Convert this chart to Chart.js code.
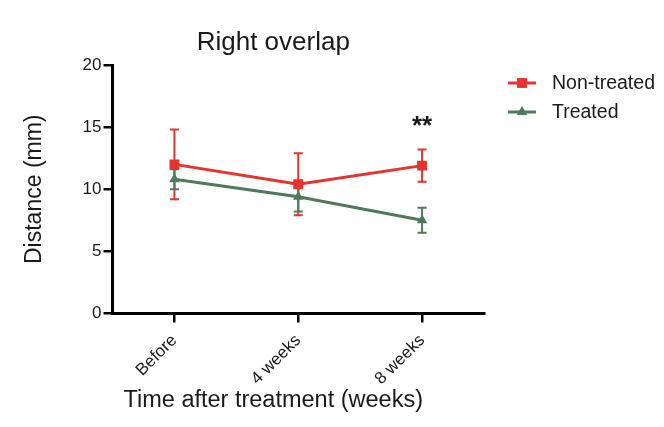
<!DOCTYPE html>
<html lang="en">
<head>
  <meta charset="UTF-8">
  <title>Right overlap</title>
  <script src="https://cdn.jsdelivr.net/npm/chart.js"></script>
  <style>
    html, body { margin: 0; padding: 0; background: #fff; }
    .chart-container { width: 664px; height: 427px; }
  </style>
</head>
<body>
  <div class="chart-container">
    <canvas id="overlapChart"></canvas>
  </div>

  <script>
    const categories = ["Before", "4 weeks", "8 weeks"];
    const yTicks = [0, 5, 10, 15, 20];

    const nonTreated = [12.0, 10.4, 11.9];
    const nonTreatedErr = [2.8, 2.5, 1.3];
    const treated = [10.8, 9.4, 7.5];
    const treatedErr = [0.8, 1.2, 1.0];

    // significance marks above a category
    const marks = [{ index: 2, text: "**" }];

    const RED = '#e8322e';
    const GREEN = '#4e7a5a';
    const FONT = '"Liberation Sans", Arial, sans-serif';

    const errorBars = {
      id: 'errorBars',
      beforeDatasetsDraw(chart) {
        const ctx = chart.ctx;
        const x = chart.scales.x, y = chart.scales.y;
        chart.data.datasets.forEach(ds => {
          ctx.save();
          ctx.strokeStyle = ds.borderColor;
          ctx.lineWidth = 2;
          ds.errors.forEach((e, i) => {
            const px = x.getPixelForValue(i);
            const top = y.getPixelForValue(ds.data[i] + e);
            const bot = y.getPixelForValue(ds.data[i] - e);
            ctx.beginPath();
            ctx.moveTo(px, top); ctx.lineTo(px, bot);
            ctx.moveTo(px - 4.5, top); ctx.lineTo(px + 4.5, top);
            ctx.moveTo(px - 4.5, bot); ctx.lineTo(px + 4.5, bot);
            ctx.stroke();
          });
          ctx.restore();
        });
      }
    };

    const extras = {
      id: 'extras',
      afterDraw(chart) {
        const ctx = chart.ctx;
        const area = chart.chartArea;
        const x = chart.scales.x, y = chart.scales.y;
        const midX = (area.left + area.right) / 2 - 25;
        ctx.save();
        ctx.fillStyle = '#1a1a1a';
        ctx.textAlign = 'center';
        ctx.textBaseline = 'alphabetic';

        // title
        ctx.font = '26px ' + FONT;
        ctx.fillText('Right overlap', midX, 50);

        // x axis title
        ctx.font = '23.5px ' + FONT;
        ctx.fillText('Time after treatment (weeks)', midX, 407);

        // significance stars
        ctx.font = 'bold 26px ' + FONT;
        ctx.textBaseline = 'middle';
        marks.forEach(m => {
          const px = x.getPixelForValue(m.index);
          const top = y.getPixelForValue(nonTreated[m.index] + nonTreatedErr[m.index]);
          ctx.fillText(m.text, px, top - 23);
        });

        // legend
        ctx.font = '19.5px ' + FONT;
        ctx.textAlign = 'left';
        chart.data.datasets.forEach((ds, i) => {
          const ly = 83 + i * 29;
          const lx = area.right + 24;
          ctx.strokeStyle = ds.borderColor;
          ctx.fillStyle = ds.borderColor;
          ctx.lineWidth = 3;
          ctx.beginPath();
          ctx.moveTo(lx, ly); ctx.lineTo(lx + 28, ly);
          ctx.stroke();
          Chart.helpers.drawPoint(ctx, {
            pointStyle: ds.pointStyle, radius: ds.pointRadius, borderWidth: 0
          }, lx + 14, ly);
          ctx.fillStyle = '#1a1a1a';
          ctx.fillText(ds.label, lx + 44, ly + 1);
        });
        ctx.restore();
      }
    };

    new Chart(document.getElementById('overlapChart'), {
      type: 'line',
      data: {
        labels: categories,
        datasets: [
          {
            label: 'Non-treated',
            data: nonTreated,
            errors: nonTreatedErr,
            borderColor: RED,
            backgroundColor: RED,
            borderWidth: 3,
            pointStyle: 'rect',
            pointRadius: 7,
            pointBorderWidth: 0
          },
          {
            label: 'Treated',
            data: treated,
            errors: treatedErr,
            borderColor: GREEN,
            backgroundColor: GREEN,
            borderWidth: 3,
            pointStyle: 'triangle',
            pointRadius: 6,
            pointBorderWidth: 0
          }
        ]
      },
      options: {
        responsive: true,
        maintainAspectRatio: false,
        animation: false,
        layout: { padding: { left: 17, right: 180, top: 65, bottom: 30 } },
        plugins: {
          legend: { display: false },
          title: { display: false },
          tooltip: { enabled: false }
        },
        scales: {
          x: {
            offset: true,
            border: { color: '#000', width: 3 },
            grid: { drawOnChartArea: false, color: '#000', tickLength: 9, lineWidth: 2.5 },
            ticks: {
              minRotation: 45, maxRotation: 45, padding: 8,
              color: '#1a1a1a', font: { family: FONT, size: 17 }
            }
          },
          y: {
            min: 0, max: 20,
            afterBuildTicks: s => { s.ticks = yTicks.map(v => ({ value: v })); },
            border: { color: '#000', width: 3 },
            grid: { drawOnChartArea: false, color: '#000', tickLength: 9, lineWidth: 2.5 },
            ticks: { padding: 2, color: '#1a1a1a', font: { family: FONT, size: 17 } },
            title: {
              display: true, text: 'Distance (mm)', color: '#1a1a1a',
              font: { family: FONT, size: 23 },
              padding: { top: 4, bottom: 32 }
            }
          }
        }
      },
      plugins: [errorBars, extras]
    });
  </script>
</body>
</html>
